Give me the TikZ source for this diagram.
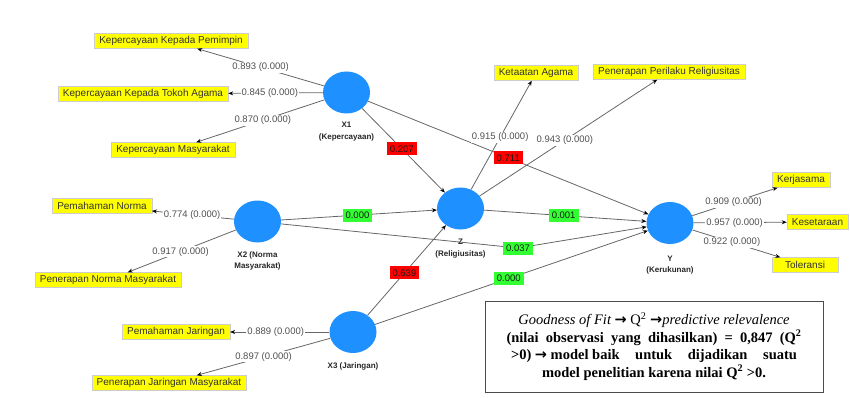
\documentclass[tikz,border=0pt]{standalone}
\usepackage{fontspec}
\setmainfont{Liberation Sans}
\newfontfamily\serf{Liberation Serif}
\newfontfamily\arrf{DejaVu Sans}
\usetikzlibrary{shapes.geometric,arrows.meta}
\definecolor{lvblue}{RGB}{30,144,255}
\definecolor{indyellow}{RGB}{255,255,0}
\definecolor{pathred}{RGB}{255,0,0}
\definecolor{pathgreen}{RGB}{50,255,50}
\definecolor{loadgray}{RGB}{80,80,80}
\begin{document}
\begin{tikzpicture}[x=1pt,y=-1pt,
  lv/.style={ellipse, fill=lvblue, minimum width=47pt, minimum height=42pt, inner sep=0pt},
  lvname/.style={font=\fontsize{8}{11.5}\selectfont\bfseries, align=center, text=black!85},
  ind/.style={fill=indyellow, draw=black!20, line width=0.4pt, font=\fontsize{10}{12}\selectfont, text=black!80, inner xsep=5pt, inner ysep=1pt, minimum height=15pt},
  load/.style={fill=white, font=\fontsize{9.5}{11}\selectfont, text=loadgray, inner sep=1pt},
  coef/.style={font=\fontsize{9.5}{11}\selectfont, text=black!90, inner xsep=3pt, inner ysep=1pt, minimum height=13pt},
  rel/.style={draw=black!60, line width=0.8pt, -{Stealth[length=5pt,width=4pt,black]}}]
\useasboundingbox (0,0) rectangle (850,398);
% latent variables
\node[lv] (x1) at (346.5,92.5) {};
\node[lv] (x2) at (257.5,221.5) {};
\node[lv] (z) at (460.5,208.5) {};
\node[lv] (x3) at (353,332) {};
\node[lv] (y) at (670,223) {};
\node[lvname] (x1n) at (346.5,131.5) {X1\\(Kepercayaan)};
\node[lvname] (x2n) at (257.5,261) {X2 (Norma\\Masyarakat)};
\node[lvname] (zn) at (460.5,248.5) {Z\\(Religiusitas)};
\node[lvname] (x3n) at (353,366) {X3 (Jaringan)};
\node[lvname] (yn) at (670,265) {Y\\(Kerukunan)};
% indicators
\node[ind] (kp) at (171,41) {Kepercayaan Kepada Pemimpin};
\node[ind] (kt) at (143,94) {Kepercayaan Kepada Tokoh Agama};
\node[ind] (km) at (173,150) {Kepercayaan Masyarakat};
\node[ind] (pn) at (102,206) {Pemahaman Norma};
\node[ind] (pnm) at (108,280) {Penerapan Norma Masyarakat};
\node[ind] (pj) at (176,332) {Pemahaman Jaringan};
\node[ind] (pjm) at (169,383) {Penerapan Jaringan Masyarakat};
\node[ind] (ka) at (536,73) {Ketaatan Agama};
\node[ind] (ppr) at (669,72) {Penerapan Perilaku Religiusitas};
\node[ind, minimum width=58pt] (kj) at (801,180) {Kerjasama};
\node[ind] (ks) at (817.5,222) {Kesetaraan};
\node[ind, minimum width=66pt] (tl) at (805,265) {Toleransi};
% inner model
\node[coef, fill=pathgreen] (c037) at (518,248) {0.037};
\draw[rel] (x1) -- node[coef, fill=pathred, pos=0.48] {0.207} (z);
\draw[rel] (x1) -- node[coef, fill=pathred, pos=0.5] {0.711} (y);
\draw[rel] (x2) -- node[coef, fill=pathgreen, pos=0.49] {0.000} (z);
\draw[rel] (z) -- node[coef, fill=pathgreen, pos=0.49] {0.001} (y);
\draw[draw=black!60, line width=0.8pt] (x2) -- (c037);
\draw[rel] (c037) -- (y);
\draw[rel] (x3) -- node[coef, fill=pathred, pos=0.47] {0.639} (z);
\draw[rel] (x3) -- node[coef, fill=pathgreen, pos=0.49] {0.000} (y);
% outer model
\draw[rel] (x1) -- node[load, pos=0.5] {0.893 (0.000)} (kp);
\draw[rel] (x1) -- node[load, pos=0.56] {0.845 (0.000)} (kt);
\draw[rel] (x1) -- node[load, pos=0.48] {0.870 (0.000)} (km);
\draw[rel] (x2) -- node[load, pos=0.51] {0.774 (0.000)} (pn);
\draw[rel] (x2) -- node[load, pos=0.51] {0.917 (0.000)} (pnm);
\draw[rel] (x3) -- node[load, pos=0.54] {0.889 (0.000)} (pj);
\draw[rel] (x3) -- node[load, pos=0.5] {0.897 (0.000)} (pjm);
\draw[rel] (z) -- node[load, pos=0.48] {0.915 (0.000)} (ka);
\draw[rel] (z) -- node[load, pos=0.48] {0.943 (0.000)} (ppr);
\draw[rel] (y) -- node[load, pos=0.485] {0.909 (0.000)} (kj);
\draw[rel] (y) -- node[load, pos=0.44] {0.957 (0.000)} (ks);
\draw[rel] (y) -- node[load, pos=0.45] {0.922 (0.000)} (tl);
% note
\node[draw=black!70, line width=0.8pt, minimum width=338pt, minimum height=91pt, align=center,
  font=\serf\fontsize{14.5}{17.5}\selectfont] (gof) at (654,346.5)
  {{\itshape Goodness of Fit} {\arrf\bfseries →} Q\textsuperscript{2} {\arrf\bfseries →}{\itshape predictive relevalence}\\
   \makebox[295pt][s]{\bfseries (nilai observasi yang dihasilkan) = 0,847 (Q\textsuperscript{2}}\\
   \makebox[286pt]{\bfseries >0) {\arrf →} model baik\hfill untuk\hfill dijadikan\hfill suatu}\\
   \bfseries model penelitian karena nilai Q\textsuperscript{2} >0.};
\end{tikzpicture}
\end{document}
